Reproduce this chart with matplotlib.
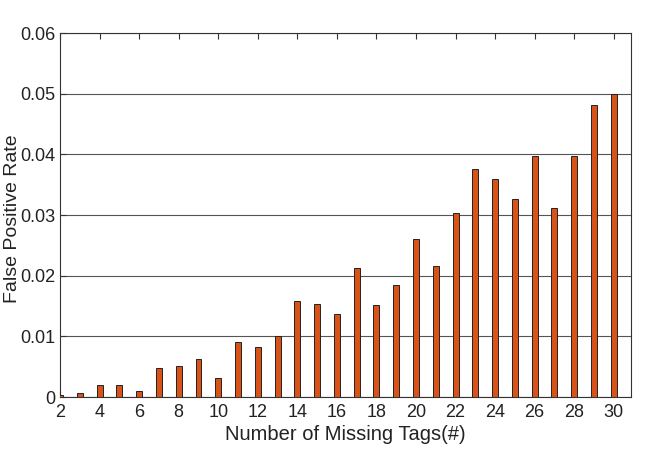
import matplotlib
matplotlib.use('Agg')
import matplotlib.pyplot as plt
from matplotlib.ticker import FuncFormatter

missing_tags = list(range(2, 31))
false_positive_rate = [0.0003, 0.0007, 0.0020, 0.0020, 0.0010, 0.0048, 0.0051, 0.0062, 0.0031,
                       0.0090, 0.0083, 0.0101, 0.0158, 0.0154, 0.0137, 0.0212, 0.0152, 0.0185,
                       0.0261, 0.0216, 0.0303, 0.0376, 0.0359, 0.0327, 0.0398, 0.0312, 0.0397,
                       0.0481, 0.0500]
x_ticks = list(range(2, 31, 2))
y_ticks = [0, 0.01, 0.02, 0.03, 0.04, 0.05, 0.06]

plt.rcParams['font.family'] = ['Liberation Sans', 'DejaVu Sans']

fig = plt.figure(figsize=(6.64, 4.53), dpi=100)
ax = fig.add_axes([0.0904, 0.1236, 0.8596, 0.8034])

ax.bar(missing_tags, false_positive_rate, width=0.3, color='#D95319',
       edgecolor='#222222', linewidth=0.7, zorder=3)

ax.set_xlim(2, 30.86)
ax.set_ylim(0, 0.06)
ax.set_xticks(x_ticks)
ax.set_yticks(y_ticks)
ax.yaxis.set_major_formatter(FuncFormatter(lambda v, p: '0' if v == 0 else f'{v:.2f}'))
ax.yaxis.grid(True, color='#555555', linewidth=0.8, zorder=0)
ax.tick_params(direction='in', top=True, right=False, labelsize=13, length=4,
               color='#333333', labelcolor='#222222')
ax.tick_params(axis='x', pad=5)
ax.tick_params(axis='y', pad=3)
for s in ax.spines.values():
    s.set_color('#333333')
    s.set_linewidth(0.8)

ax.set_xlabel('Number of Missing Tags(#)', fontsize=14.5, color='#222222', labelpad=3)
ax.set_ylabel('False Positive Rate', fontsize=14, color='#222222')
ax.yaxis.set_label_coords(-0.068, 0.49)

fig.savefig('out.png', dpi=100)
